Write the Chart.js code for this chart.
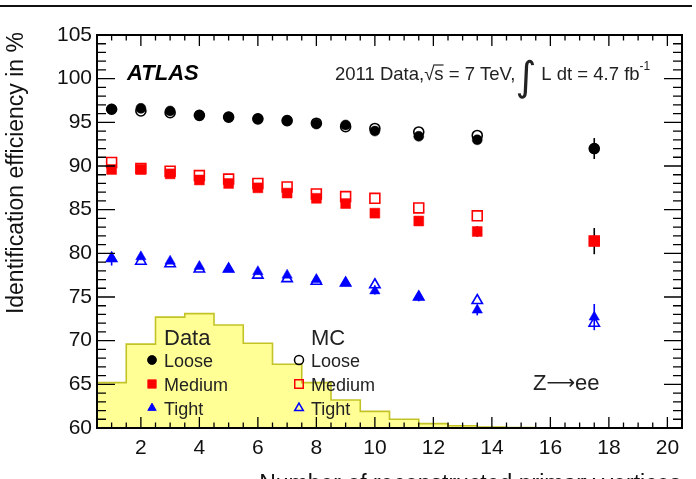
<!DOCTYPE html>
<html>
<head>
<meta charset="utf-8">
<script src="https://cdn.jsdelivr.net/npm/chart.js@4/dist/chart.umd.min.js"></script>
<style>
  html, body { margin: 0; padding: 0; background: #fff; }
  #wrap { width: 696px; height: 479px; }
</style>
</head>
<body>
<div id="wrap"><canvas id="effChart" width="696" height="479"></canvas></div>
<script>
// pile-up bins (number of primary vertices)
const xPoints = [1, 2, 3, 4, 5, 6, 7, 8, 9, 10, 11.5, 13.5, 17.5];

// efficiencies in %
const dataLoose  = [96.5, 96.6, 96.3, 95.8, 95.6, 95.4, 95.2, 94.8, 94.7, 94.0, 93.4, 93.0, 92.0];
const mcLoose    = [96.5, 96.3, 96.1, 95.8, 95.6, 95.4, 95.2, 94.9, 94.5, 94.3, 93.9, 93.5, 92.0];
const dataMedium = [89.6, 89.6, 89.1, 88.4, 88.0, 87.5, 86.9, 86.3, 85.7, 84.6, 83.7, 82.5, 81.4];
const mcMedium   = [90.4, 89.7, 89.4, 88.9, 88.5, 88.0, 87.6, 86.8, 86.5, 86.3, 85.2, 84.3, 81.4];
const dataTight  = [79.4, 79.6, 79.1, 78.5, 78.2, 77.9, 77.5, 77.0, 76.6, 75.7, 75.0, 73.5, 72.7];
const mcTight    = [79.4, 79.1, 78.8, 78.2, 78.2, 77.5, 77.1, 76.8, 76.6, 76.4, 75.0, 74.6, 72.0];

// stat errors on data
const errLoose  = [0.3, 0.2, 0.2, 0.2, 0.2, 0.2, 0.2, 0.2, 0.2, 0.3, 0.4, 0.5, 1.2];
const errMedium = [0.5, 0.2, 0.2, 0.2, 0.2, 0.2, 0.2, 0.3, 0.3, 0.3, 0.4, 0.6, 1.5];
const errTight  = [0.8, 0.3, 0.3, 0.3, 0.3, 0.3, 0.3, 0.3, 0.3, 0.4, 0.5, 0.6, 1.5];

// vertex multiplicity distribution, drawn in plot units
const histBins   = [1, 2, 3, 4, 5, 6, 7, 8, 9, 10, 11, 12, 13, 14, 15, 16, 17, 18, 19, 20];
const histValues = [61.4, 65.2, 69.6, 72.7, 73.1, 71.8, 69.7, 67.3, 65.2, 63.2, 61.9, 61.0, 60.5, 60.25, 60.1, 60.05, 60, 60, 60, 60];

const xTickLabels = [2, 4, 6, 8, 10, 12, 14, 16, 18, 20];
const yTickLabels = [60, 65, 70, 75, 80, 85, 90, 95, 100, 105];

const FONT = "'Liberation Sans', Arial, Helvetica, sans-serif";

function pts(ys) {
    return xPoints.map((x, i) => ({ x: x, y: ys[i] }));
}

// step outline: each bin edge holds its value until the next edge
const histPts = histBins.map((b, i) => ({ x: b - 0.5, y: histValues[i] }));
histPts.push({ x: histBins[histBins.length - 1] + 0.5, y: histValues[histValues.length - 1] });

function markerSet(label, ys, style, color, filled, radius, order) {
    return {
        label: label,
        data: pts(ys),
        showLine: false,
        pointStyle: style,
        pointRadius: radius,
        pointHoverRadius: radius,
        pointBackgroundColor: filled ? color : 'rgba(0,0,0,0)',
        pointBorderColor: color,
        pointBorderWidth: filled ? 0.5 : 1.6,
        order: order
    };
}

// frame, inward ticks, error bars and all the labels
const atlasDecor = {
    id: 'atlasDecor',
    beforeDatasetsDraw(chart) {
        const ctx = chart.ctx;
        const xs = chart.scales.x, ys = chart.scales.y;
        const sets = [[dataLoose, errLoose, '#000'], [dataMedium, errMedium, '#000'], [dataTight, errTight, '#0000ff']];
        ctx.save();
        ctx.lineWidth = 1.6;
        sets.forEach(s => {
            ctx.strokeStyle = s[2];
            xPoints.forEach((x, i) => {
                const px = xs.getPixelForValue(x);
                ctx.beginPath();
                ctx.moveTo(px, ys.getPixelForValue(s[0][i] - s[1][i]));
                ctx.lineTo(px, ys.getPixelForValue(s[0][i] + s[1][i]));
                ctx.stroke();
            });
        });
        ctx.restore();
    },
    afterDraw(chart) {
        const ctx = chart.ctx;
        const a = chart.chartArea;
        const xs = chart.scales.x, ys = chart.scales.y;
        ctx.save();

        // line across the top of the page
        ctx.strokeStyle = '#111';
        ctx.lineWidth = 2;
        ctx.beginPath();
        ctx.moveTo(0, 6);
        ctx.lineTo(692, 6);
        ctx.stroke();

        // ticks pointing into the frame
        ctx.lineWidth = 1.3;
        ctx.strokeStyle = '#000';
        ctx.beginPath();
        for (let v = 60; v <= 105; v += 1) {
            const py = ys.getPixelForValue(v);
            const len = (v % 5 === 0) ? 18 : 9;
            ctx.moveTo(a.left, py); ctx.lineTo(a.left + len, py);
            ctx.moveTo(a.right, py); ctx.lineTo(a.right - len, py);
        }
        for (let v = 0.5; v <= 20.5; v += 0.5) {
            const px = xs.getPixelForValue(v);
            const major = (v % 2 === 0);
            ctx.moveTo(px, a.bottom); ctx.lineTo(px, a.bottom - (major ? 11 : 5.5));
            ctx.moveTo(px, a.top); ctx.lineTo(px, a.top + (major ? 11 : 5.5));
        }
        ctx.stroke();

        ctx.lineWidth = 2;
        ctx.strokeRect(a.left, a.top, a.right - a.left, a.bottom - a.top);

        ctx.fillStyle = '#000';
        ctx.textBaseline = 'alphabetic';

        // ATLAS label
        ctx.font = 'italic bold 22px ' + FONT;
        ctx.textAlign = 'left';
        ctx.fillText('ATLAS', 127, 80);

        // 2011 Data, sqrt(s) = 7 TeV, int L dt = 4.7 fb-1
        ctx.fillStyle = '#222';
        const f = '18.5px ' + FONT;
        let x = 335;
        const base = 80;
        const put = (t, fnt) => { ctx.font = fnt; ctx.fillText(t, x, base); x += ctx.measureText(t).width; };
        put('2011 Data,', f);
        put('\u221A', f);
        const sx = x;
        put('s', f);
        ctx.lineWidth = 1.2;
        ctx.strokeStyle = '#222';
        ctx.beginPath(); ctx.moveTo(sx - 1, base - 15); ctx.lineTo(x, base - 15); ctx.stroke();
        put(' = 7 TeV,', f);
        ctx.save();
        ctx.font = '40px DejaVu Sans';
        ctx.fillText('\u222B', x, base + 10);
        x += ctx.measureText('\u222B').width;
        ctx.restore();
        put(' L dt = 4.7 fb', f);
        ctx.font = '12px ' + FONT;
        ctx.fillText('-1', x, base - 10);

        // legend block
        ctx.fillStyle = '#222';
        ctx.font = '22px ' + FONT;
        ctx.fillText('Data', 164, 345);
        ctx.fillText('MC', 311, 345);
        const rows = [['Loose', 'circle', '#000', 4.5, 360], ['Medium', 'rect', '#ff0000', 6, 384], ['Tight', 'triangle', '#0000ff', 5, 408]];
        ctx.font = '18px ' + FONT;
        rows.forEach(r => {
            ctx.fillStyle = '#222';
            ctx.fillText(r[0], 164, r[4] + 7);
            ctx.fillText(r[0], 311, r[4] + 7);
            ctx.fillStyle = r[2];
            ctx.strokeStyle = r[2];
            ctx.lineWidth = 0.5;
            Chart.helpers.drawPoint(ctx, { pointStyle: r[1], radius: r[3], borderWidth: 0.5, rotation: 0 }, 152, r[4]);
            ctx.fill();
            ctx.save();
            ctx.fillStyle = 'rgba(0,0,0,0)';
            ctx.lineWidth = 1.5;
            Chart.helpers.drawPoint(ctx, { pointStyle: r[1], radius: r[3], borderWidth: 1.5, rotation: 0 }, 299, r[4]);
            ctx.restore();
        });

        // process label, long arrow from DejaVu
        ctx.fillStyle = '#222';
        x = 533;
        const zb = 390;
        ctx.font = '22px ' + FONT;
        ctx.fillText('Z', x, zb); x += ctx.measureText('Z').width;
        ctx.font = '20px DejaVu Sans';
        ctx.fillText('\u27F6', x, zb - 1); x += ctx.measureText('\u27F6').width;
        ctx.font = '22px ' + FONT;
        ctx.fillText('ee', x, zb);

        // axis titles
        ctx.fillStyle = '#111';
        ctx.font = '23px ' + FONT;
        ctx.textAlign = 'right';
        ctx.fillText('Number of reconstructed primary vertices', 681, 491);
        ctx.translate(23, 32);
        ctx.rotate(-Math.PI / 2);
        ctx.fillText('Identification efficiency in %', 0, 0);
        ctx.restore();
    }
};

window.onload = function() {
    const ctx = document.getElementById('effChart').getContext('2d');
    new Chart(ctx, {
        type: 'scatter',
        data: {
            datasets: [
                markerSet('Data Loose', dataLoose, 'circle', '#000000', true, 5, 1),
                markerSet('Data Medium', dataMedium, 'rect', '#ff0000', true, 7, 1),
                markerSet('Data Tight', dataTight, 'triangle', '#0000ff', true, 6, 1),
                markerSet('MC Loose', mcLoose, 'circle', '#000000', false, 5, 2),
                markerSet('MC Medium', mcMedium, 'rect', '#ff0000', false, 7, 2),
                markerSet('MC Tight', mcTight, 'triangle', '#0000ff', false, 6, 2),
                {
                    type: 'line',
                    label: 'vertices',
                    data: histPts,
                    stepped: 'after',
                    fill: 'start',
                    backgroundColor: 'rgb(255, 255, 150)',
                    borderColor: 'rgb(195, 195, 40)',
                    borderWidth: 1.6,
                    pointRadius: 0,
                    order: 10
                }
            ]
        },
        options: {
            responsive: false,
            animation: false,
            devicePixelRatio: 1,
            layout: { padding: { left: 0, right: 14, top: 35, bottom: 0 } },
            plugins: {
                legend: { display: false },
                tooltip: { enabled: false }
            },
            scales: {
                x: {
                    type: 'linear',
                    min: 0.5,
                    max: 20.5,
                    afterBuildTicks: s => { s.ticks = xTickLabels.map(v => ({ value: v })); },
                    afterFit: s => { s.height = 51; },
                    grid: { display: false, drawTicks: false },
                    border: { display: false },
                    ticks: { color: '#111', padding: 8, font: { family: FONT, size: 21 }, maxRotation: 0, autoSkip: false }
                },
                y: {
                    type: 'linear',
                    min: yTickLabels[0],
                    max: yTickLabels[yTickLabels.length - 1],
                    afterBuildTicks: s => { s.ticks = yTickLabels.map(v => ({ value: v })); },
                    afterFit: s => { s.width = 97; },
                    grid: { display: false, drawTicks: false },
                    border: { display: false },
                    ticks: { color: '#111', padding: 5, font: { family: FONT, size: 21 } }
                }
            }
        },
        plugins: [atlasDecor]
    });
};
</script>
</body>
</html>
